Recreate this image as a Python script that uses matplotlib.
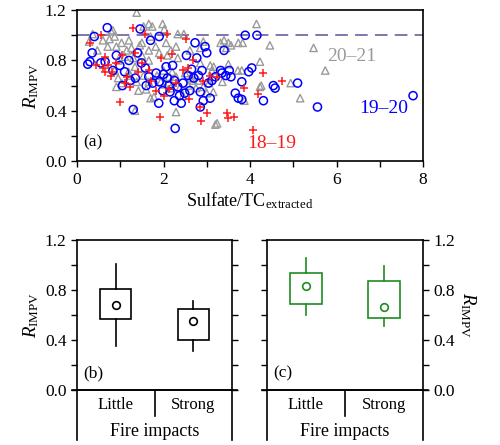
import matplotlib

matplotlib.use("Agg")

import matplotlib.pyplot as plt
from matplotlib.ticker import MultipleLocator

plt.rcParams["font.family"] = ["Liberation Serif", "DejaVu Serif"]
plt.rcParams["mathtext.fontset"] = "custom"
plt.rcParams["mathtext.rm"] = "Liberation Serif"
plt.rcParams["mathtext.it"] = "Liberation Serif:italic"

# season 2019-20 (blue circles)
c1920_x = [0.25, 0.30, 0.35, 0.40, 0.70, 0.65, 0.55, 0.83, 0.91, 0.99, 1.10, 1.23, 1.30, 1.46, 1.49,
           1.58, 1.66, 1.70, 1.83, 1.90, 1.90, 1.89, 1.98, 2.06, 2.09, 2.13, 2.21, 2.25, 2.25, 2.27,
           2.33, 2.41, 2.45, 2.49, 2.53, 2.57, 2.61, 2.73, 2.77, 2.81, 2.85, 2.85, 2.89, 2.92, 2.96,
           3.00, 3.04, 3.08, 3.12, 3.20, 3.32, 3.35, 3.40, 3.44, 3.52, 3.56, 3.66, 3.73, 3.81, 3.81,
           3.89, 3.97, 4.04, 4.16, 4.31, 4.54, 4.58, 5.10, 5.56, 7.77, 1.05, 1.35, 1.60, 1.75, 2.00,
           2.15, 2.37, 2.70, 1.40, 1.20, 2.65]
c1920_y = [0.77, 0.79, 0.86, 0.99, 1.06, 0.79, 0.78, 0.72, 0.84, 0.76, 0.71, 0.64, 0.41, 1.05, 0.78,
           0.74, 0.67, 0.96, 0.70, 0.99, 0.63, 0.46, 0.56, 0.75, 0.66, 0.60, 0.76, 0.64, 0.48, 0.26,
           0.59, 0.46, 0.62, 0.54, 0.84, 0.68, 0.56, 0.94, 0.82, 0.68, 0.55, 0.43, 0.72, 0.48, 0.91,
           0.86, 0.62, 0.50, 0.64, 0.67, 0.72, 0.70, 0.88, 0.68, 0.72, 0.67, 0.54, 0.50, 0.49, 0.63,
           1.00, 0.71, 0.74, 1.00, 0.48, 0.60, 0.58, 0.62, 0.43, 0.52, 0.60, 0.66, 0.60, 0.62, 0.69,
           0.55, 0.52, 0.66, 0.86, 0.80, 0.73]

# season 2018-19 (red pluses)
p1819_x = [0.55, 0.30, 1.29, 1.58, 2.09, 2.51, 0.45, 0.65, 0.65, 0.79, 0.71, 0.91, 0.99, 1.23, 1.15,
           1.34, 1.42, 1.50, 1.66, 1.70, 1.82, 1.92, 2.00, 2.12, 2.29, 2.45, 2.57, 2.58, 2.69, 2.86,
           2.85, 2.92, 3.00, 3.08, 3.24, 3.46, 3.50, 3.62, 3.86, 4.06, 4.19, 4.31, 4.73, 0.60, 0.81,
           1.05, 1.95, 2.20, 1.10]
p1819_y = [1.00, 0.94, 1.06, 1.01, 1.01, 0.97, 0.76, 0.83, 0.71, 0.68, 0.76, 0.78, 0.47, 0.59, 0.67,
           0.86, 0.71, 0.78, 0.72, 0.64, 0.56, 0.35, 0.52, 0.57, 0.62, 0.72, 0.74, 0.49, 0.80, 0.32,
           0.43, 0.64, 0.38, 0.68, 0.67, 0.38, 0.34, 0.35, 0.58, 0.25, 0.53, 0.70, 0.64, 0.74, 0.71,
           0.84, 0.82, 0.85, 0.62]

# season 2020-21 (grey triangles)
t2021_x = [1.38, 0.28, 0.36, 0.79, 0.83, 0.87, 0.47, 0.71, 0.91, 1.03, 1.15, 1.26, 1.54, 1.66, 1.74,
           1.98, 2.02, 2.33, 2.47, 1.70, 1.50, 1.66, 1.82, 2.06, 2.17, 2.29, 1.90, 2.09, 2.33, 2.61,
           2.85, 2.92, 3.32, 3.40, 3.56, 3.83, 2.85, 3.08, 3.16, 0.87, 0.95, 0.91, 1.03, 1.19, 1.23,
           1.34, 1.38, 1.42, 1.54, 1.66, 1.78, 1.70, 1.94, 2.02, 2.13, 2.17, 2.29, 2.37, 2.45, 2.57,
           2.29, 2.69, 2.80, 2.92, 3.00, 3.12, 3.15, 3.24, 3.20, 3.36, 3.72, 3.81, 3.73, 3.50, 3.45,
           3.50, 1.34, 1.30, 1.50, 1.66, 0.95, 1.11, 3.87, 4.23, 4.15, 4.46, 5.47, 4.23, 5.74, 4.26,
           4.94, 5.16, 0.60, 0.75, 1.20, 1.45, 2.20, 2.50, 2.62, 2.00, 1.85, 1.60, 2.75, 3.05]
t2021_y = [1.18, 0.95, 1.01, 1.03, 1.04, 0.99, 0.88, 0.91, 0.91, 0.94, 0.88, 0.90, 1.07, 1.09, 1.07,
           1.09, 1.05, 1.01, 1.01, 0.99, 0.94, 0.88, 0.91, 0.94, 0.88, 0.91, 0.86, 0.84, 0.82, 0.88,
           0.90, 0.95, 0.94, 0.96, 0.92, 0.94, 0.78, 0.76, 0.75, 0.72, 0.66, 0.59, 0.62, 0.71, 0.68,
           0.75, 0.63, 0.56, 0.68, 0.63, 0.51, 0.50, 0.63, 0.61, 0.67, 0.58, 0.67, 0.58, 0.52, 0.60,
           0.39, 0.64, 0.64, 0.59, 0.54, 0.72, 0.55, 0.30, 0.29, 0.63, 0.72, 0.72, 0.94, 0.94, 0.90,
           0.77, 0.40, 0.82, 0.84, 0.80, 0.80, 0.83, 0.48, 0.59, 1.09, 0.92, 0.90, 0.79, 0.72, 0.60,
           0.62, 0.50, 0.96, 0.97, 0.96, 0.92, 0.71, 0.70, 0.66, 0.72, 0.68, 0.57, 0.58, 0.62]

# box summaries: whisker low, box low, mean, box high, whisker high
groups = ["Little", "Strong"]
box_b = [[0.35, 0.565, 0.68, 0.805, 1.01],
         [0.31, 0.40, 0.555, 0.645, 0.71]]
box_c = [[0.60, 0.69, 0.835, 0.94, 1.06],
         [0.51, 0.58, 0.665, 0.875, 0.99]]

BLUE = "#0000ff"
RED = "#ff1a1a"
GREY = "#9a9a9a"
GREEN = "#1e8c1e"

fig = plt.figure(figsize=(5.0, 4.45), dpi=100)
ax = fig.add_axes([0.154, 0.638, 0.692, 0.3393])
axb = fig.add_axes([0.154, 0.1236, 0.31, 0.337])
axc = fig.add_axes([0.534, 0.1236, 0.312, 0.337])

# ---- panel (a)
ax.axhline(1.0, color="#7a6aa6", lw=1.3, dashes=(7, 4), zorder=1)
ax.scatter(t2021_x, t2021_y, marker="^", s=28, facecolors="none", edgecolors=GREY, linewidths=1.0, zorder=2)
ax.scatter(c1920_x, c1920_y, marker="o", s=34, facecolors="none", edgecolors=BLUE, linewidths=1.1, zorder=3)
ax.scatter(p1819_x, p1819_y, marker="+", s=34, color=RED, linewidths=1.1, zorder=4)
ax.set_xlim(0, 8)
ax.set_ylim(0, 1.2)
ax.xaxis.set_major_locator(MultipleLocator(2))
ax.xaxis.set_minor_locator(MultipleLocator(1))
ax.yaxis.set_major_locator(MultipleLocator(0.4))
ax.yaxis.set_minor_locator(MultipleLocator(0.2))
ax.yaxis.set_major_formatter(plt.FormatStrFormatter("%.1f"))
ax.tick_params(which="both", direction="out", length=4, width=1, labelsize=12.5)
ax.set_xlabel(r"Sulfate/TC$_{\mathrm{extracted}}$", fontsize=13, labelpad=2)
ax.set_ylabel(r"$R_{\mathrm{IMPV}}$", fontsize=13.5, labelpad=3)
ax.text(0.15, 0.12, "(a)", fontsize=12.5)
ax.text(6.35, 0.83, "20–21", color=GREY, fontsize=14, ha="center", va="center")
ax.text(7.1, 0.42, "19–20", color=BLUE, fontsize=14, ha="center", va="center")
ax.text(4.5, 0.14, "18–19", color=RED, fontsize=14, ha="center", va="center")
for s in ax.spines.values():
    s.set_linewidth(1.2)


def draw_boxes(axis, stats, color):
    for i, (wlo, blo, mean, bhi, whi) in enumerate(stats):
        pos = i + 0.5
        axis.plot([pos, pos], [wlo, blo], color=color, lw=1.2)
        axis.plot([pos, pos], [bhi, whi], color=color, lw=1.2)
        axis.add_patch(plt.Rectangle((pos - 0.2, blo), 0.4, bhi - blo, fill=False, edgecolor=color, lw=1.2))
        axis.plot(pos, mean, "o", ms=5.5, mfc="none", mec=color, mew=1.2)
    axis.set_xlim(0, 2)
    axis.set_ylim(0, 1.2)
    axis.set_xticks([])
    axis.yaxis.set_major_locator(MultipleLocator(0.4))
    axis.yaxis.set_minor_locator(MultipleLocator(0.2))
    axis.yaxis.set_major_formatter(plt.FormatStrFormatter("%.1f"))
    axis.tick_params(axis="y", which="both", direction="out", length=4, width=1, labelsize=12.5,
                     left=True, right=True)
    for s in axis.spines.values():
        s.set_linewidth(1.2)
    # category strip below the axes
    kw = dict(color="black", lw=1.2, transform=axis.transAxes, clip_on=False)
    axis.plot([0, 0], [0, -0.333], **kw)
    axis.plot([1, 1], [0, -0.333], **kw)
    axis.plot([0.5, 0.5], [0, -0.173], **kw)
    axis.plot([-0.03, 1.03], [0, 0], **kw)
    for i, g in enumerate(groups):
        axis.text(0.25 + 0.5 * i, -0.1, g, transform=axis.transAxes, ha="center", va="center", fontsize=12)
    axis.text(0.5, -0.275, "Fire impacts", transform=axis.transAxes, ha="center", va="center", fontsize=13)


draw_boxes(axb, box_b, "black")
axb.tick_params(axis="y", labelleft=True, labelright=False)
axb.set_ylabel(r"$R_{\mathrm{IMPV}}$", fontsize=13.5, labelpad=3)
axb.text(0.08, 0.1, "(b)", fontsize=12.5)

draw_boxes(axc, box_c, GREEN)
axc.tick_params(axis="y", labelleft=False, labelright=True)
axc.yaxis.set_label_position("right")
axc.set_ylabel(r"$R_{\mathrm{IMPV}}$", fontsize=13.5, rotation=270, labelpad=16)
axc.text(0.08, 0.1, "(c)", fontsize=12.5)

fig.savefig("out.png", dpi=100)
